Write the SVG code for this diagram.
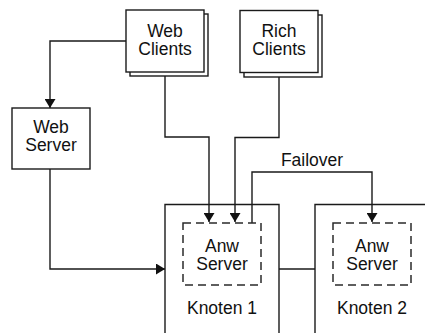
<svg xmlns="http://www.w3.org/2000/svg" width="425" height="333" viewBox="0 0 425 333">
  <style>
    .box { fill: #fff; stroke: #1a1a1a; stroke-width: 1.4; }
    .dash { fill: none; stroke: #2a2a2a; stroke-width: 1.5; stroke-dasharray: 8 5; }
    .wire { fill: none; stroke: #1a1a1a; stroke-width: 1.4; }
    text { font-family: "Liberation Sans", Arial, sans-serif; font-size: 17.5px; fill: #111; text-anchor: middle; }
  </style>
  <defs>
    <marker id="arrow" markerUnits="userSpaceOnUse" markerWidth="10" markerHeight="11" refX="9" refY="5.5" orient="auto">
      <path d="M0,0 L9,5.5 L0,11 z" fill="#111"/>
    </marker>
  </defs>

  <!-- connectors -->
  <g id="connectors">
    <path class="wire" d="M126,41 H50 V108" marker-end="url(#arrow)"/>
    <path class="wire" d="M165,76 V137 H209 V222" marker-end="url(#arrow)"/>
    <path class="wire" d="M279,77 V137.5 H235 V222" marker-end="url(#arrow)"/>
    <path class="wire" d="M50,169 V269 H165" marker-end="url(#arrow)"/>
    <path class="wire" d="M252,223 V172 H372 V222" marker-end="url(#arrow)"/>
    <path class="wire" d="M279,269 H315"/>
    <text x="312" y="166">Failover</text>
  </g>

  <!-- client stacks -->
  <g id="web-clients">
    <rect class="box" x="130" y="14" width="78" height="62"/>
    <rect class="box" x="126" y="10" width="78" height="62"/>
    <text x="165" y="36.5">Web</text>
    <text x="165" y="55">Clients</text>
  </g>
  <g id="rich-clients">
    <rect class="box" x="244" y="15" width="78" height="62"/>
    <rect class="box" x="240" y="10.5" width="78" height="62"/>
    <text x="279" y="36.5">Rich</text>
    <text x="279" y="55">Clients</text>
  </g>

  <g id="web-server">
    <rect class="box" x="12" y="108" width="78" height="61"/>
    <text x="51" y="132.5">Web</text>
    <text x="51" y="151">Server</text>
  </g>

  <!-- cluster nodes -->
  <g id="knoten-1">
    <path class="wire" d="M165,340 V204.5 H279 V340"/>
    <rect class="dash" x="183" y="223" width="78" height="62"/>
    <text x="222" y="251.5">Anw</text>
    <text x="222" y="270">Server</text>
    <text x="222" y="314">Knoten 1</text>
  </g>
  <g id="knoten-2">
    <path class="wire" d="M315,340 V204.5 H430"/>
    <rect class="dash" x="333" y="223" width="78" height="62"/>
    <text x="372" y="251.5">Anw</text>
    <text x="372" y="270">Server</text>
    <text x="372" y="314">Knoten 2</text>
  </g>
</svg>
